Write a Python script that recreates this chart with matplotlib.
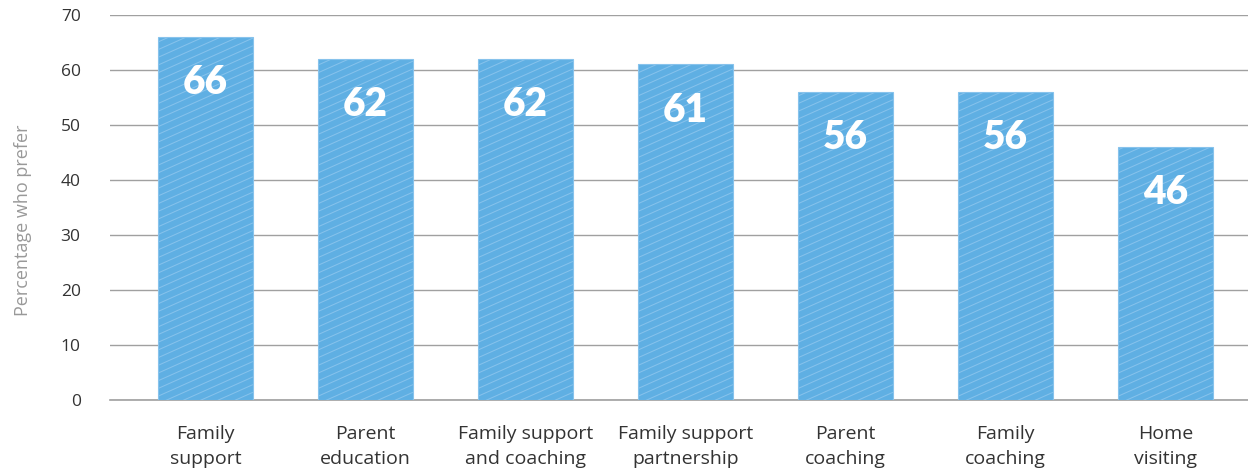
import matplotlib
matplotlib.use("Agg")
import matplotlib.pyplot as plt
import numpy as np

categories = ["Family\nsupport", "Parent\neducation", "Family support\nand coaching",
              "Family support\npartnership", "Parent\ncoaching", "Family\ncoaching", "Home\nvisiting"]
values = [66, 62, 62, 61, 56, 56, 46]
yticks = [0, 10, 20, 30, 40, 50, 60, 70]

plt.rcParams["font.family"] = ["Open Sans", "DejaVu Sans"]

fig = plt.figure(figsize=(12.48, 4.71), dpi=100)
ax = fig.add_axes([0.088, 0.1507, 0.912, 0.8175])

x = np.arange(len(categories))
bar_w = 0.594
bars = ax.bar(x, values, width=bar_w, color="#5fafe3", edgecolor="#88c3ec",
              linewidth=0.8, zorder=3)

ax.set_xlim(-0.597, 6.516)
ax.set_ylim(0, 70)

# fine diagonal texture inside each bar
slope = 13.0      # data units of y per unit of x (shallow on screen)
step = 1.4
for rect in bars:
    x0 = rect.get_x()
    x1 = x0 + rect.get_width()
    h = rect.get_height()
    for c in np.arange(-slope * bar_w, h + step, step):
        ln, = ax.plot([x0, x1], [c, c + slope * (x1 - x0)], color="#86c2ec",
                      linewidth=0.75, zorder=3.5, solid_capstyle="butt")
        ln.set_clip_path(rect)

for xi, v in zip(x, values):
    ax.text(xi, v - 8.3, str(v), ha="center", va="center", color="white",
            fontsize=28, fontweight="heavy", family=["Lato", "DejaVu Sans"], zorder=4)

ax.set_yticks(yticks)
ax.grid(axis="y", color="#a0a0a0", linewidth=1.0, zorder=0)
ax.set_axisbelow(True)
for s in ["top", "right", "left"]:
    ax.spines[s].set_visible(False)
ax.spines["bottom"].set_color("#a0a0a0")
ax.spines["bottom"].set_linewidth(1.2)

ax.set_xticks(x)
ax.set_xticklabels(categories, fontsize=14, color="#333333", linespacing=1.48)
ax.tick_params(axis="x", length=0, pad=18)
ax.tick_params(axis="y", length=0, pad=21, labelsize=12.5, labelcolor="#333333")
ax.set_ylabel("Percentage who prefer", fontsize=13, color="#999999")
ax.yaxis.set_label_coords(-0.068, 0.4675)

fig.savefig("out.png", dpi=100)
